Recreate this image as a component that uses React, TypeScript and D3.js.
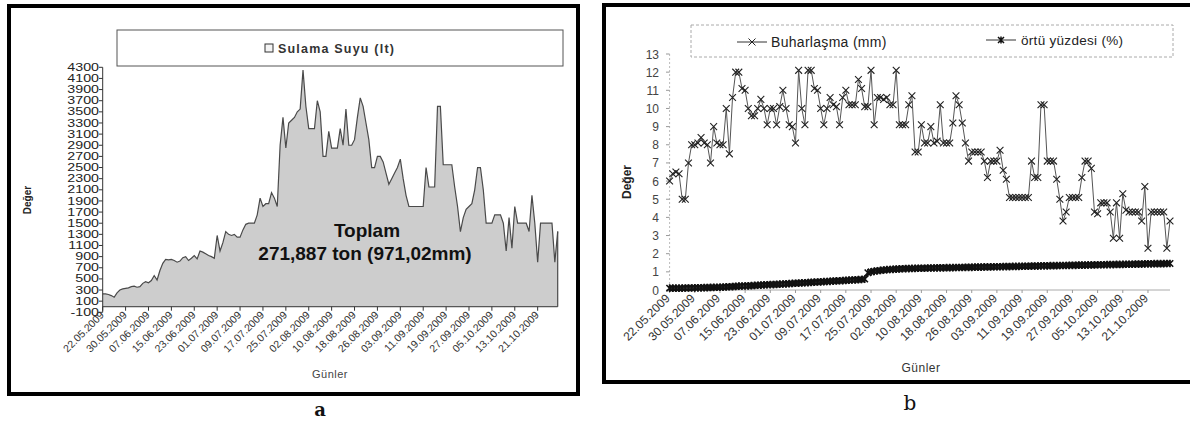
import React from "react";
import * as d3 from "d3";

// ---------- DATA ----------
const startDate = new Date(2009, 4, 22);
const dayCount = 160;
const categories: string[] = d3.timeDay
  .range(startDate, d3.timeDay.offset(startDate, dayCount))
  .map((d) => d3.timeFormat("%d.%m.%Y")(d));

const tickLabels = [
  "22.05.2009", "30.05.2009", "07.06.2009", "15.06.2009", "23.06.2009",
  "01.07.2009", "09.07.2009", "17.07.2009", "25.07.2009", "02.08.2009",
  "10.08.2009", "18.08.2009", "26.08.2009", "03.09.2009", "11.09.2009",
  "19.09.2009", "27.09.2009", "05.10.2009", "13.10.2009", "21.10.2009",
];

const sulamaTicks = d3.range(-100, 4301, 200);
const degerTicks = d3.range(0, 14, 1);

// Sulama Suyu (lt)
const sulamaSuyu = [
  230, 230, 220, 200, 170, 250, 300, 320, 330, 340,
  360, 370, 350, 360, 420, 450, 430, 470, 560, 480,
  650, 780, 850, 840, 850, 830, 800, 820, 880, 900,
  830, 870, 920, 860, 1000, 980, 950, 920, 900, 870,
  1280, 1000, 1150, 1350, 1300, 1280, 1300, 1250, 1250, 1380,
  1480, 1500, 1500, 1500, 1650, 1950, 1800, 1850, 1850, 2050,
  1950, 1800, 2900, 3400, 2850, 3300, 3350, 3400, 3500, 3550,
  4250, 3600, 3200, 3200, 3200, 3700, 3500, 2700, 2700, 3150,
  2850, 2850, 2850, 3200, 2900, 3550, 2900, 2900, 3000, 3400,
  3750, 3600, 3300, 3000, 2500, 2500, 2700, 2700, 2600, 2400,
  2200, 2300, 2400, 2500, 2650, 2300, 2000, 1800, 1800, 1800,
  1800, 1800, 1800, 2500, 2150, 2150, 2150, 3600, 3600, 2550,
  2550, 2550, 2550, 2150, 1800, 1350, 1600, 1750, 1800, 1850,
  2100, 2500, 2500, 2100, 1500, 1500, 1500, 1650, 1650, 1650,
  1500, 1000, 1600, 1050, 1800, 1500, 1500, 1500, 1500, 1350,
  2000, 1500, 800, 1500, 1500, 1500, 1500, 1500, 800, 1350,
];

// Buharlaşma (mm)
const buharlasma = [
  6.0, 6.4, 6.5, 6.4, 5.0, 5.0, 7.0, 8.0, 8.0, 8.1,
  8.4, 8.1, 8.0, 7.0, 9.0, 8.1, 8.0, 8.0, 10.0, 7.5,
  10.6, 12.0, 12.0, 11.1, 11.0, 10.0, 9.6, 9.6, 10.0, 10.5,
  10.0, 9.1, 10.0, 10.0, 9.1, 10.1, 11.0, 10.0, 9.1, 9.0,
  8.1, 12.1, 10.0, 9.1, 12.1, 12.1, 11.1, 11.0, 10.0, 9.1,
  10.0, 10.6, 10.2, 10.1, 9.1, 10.6, 11.0, 10.2, 10.2, 10.2,
  11.6, 11.1, 10.1, 10.1, 12.1, 9.1, 10.6, 10.6, 10.5, 10.6,
  10.2, 10.2, 12.1, 9.1, 9.1, 9.1, 10.2, 10.7, 7.6, 7.6,
  9.1, 8.1, 8.1, 9.0, 8.1, 8.2, 10.2, 8.1, 8.1, 8.1,
  9.2, 10.7, 10.2, 9.2, 8.1, 7.1, 7.6, 7.6, 7.6, 7.6,
  7.1, 6.2, 7.1, 7.1, 7.1, 7.7, 6.6, 6.1, 5.1, 5.1,
  5.1, 5.1, 5.1, 5.1, 5.1, 7.1, 6.2, 6.2, 10.2, 10.2,
  7.1, 7.1, 7.1, 6.1, 5.0, 3.8, 4.3, 5.1, 5.1, 5.1,
  5.1, 6.2, 7.1, 7.1, 6.7, 4.3, 4.2, 4.8, 4.8, 4.8,
  4.3, 2.85, 4.8, 2.85, 5.3, 4.4, 4.3, 4.3, 4.3, 4.3,
  3.8, 5.7, 2.3, 4.3, 4.3, 4.3, 4.3, 4.3, 2.3, 3.8,
];

// örtü yüzdesi (%)
const ortuYuzdesi = [
  0.10, 0.10, 0.10, 0.10, 0.10, 0.11, 0.11, 0.11, 0.12, 0.12,
  0.12, 0.13, 0.13, 0.14, 0.14, 0.15, 0.15, 0.16, 0.17, 0.18,
  0.19, 0.20, 0.21, 0.22, 0.22, 0.23, 0.24, 0.25, 0.26, 0.27,
  0.28, 0.29, 0.30, 0.30, 0.31, 0.32, 0.33, 0.34, 0.35, 0.36,
  0.37, 0.38, 0.39, 0.40, 0.41, 0.42, 0.43, 0.44, 0.45, 0.46,
  0.47, 0.48, 0.49, 0.50, 0.51, 0.52, 0.53, 0.54, 0.55, 0.56,
  0.57, 0.58, 0.60, 0.95, 1.00, 1.03, 1.06, 1.08, 1.10, 1.12,
  1.13, 1.14, 1.15, 1.16, 1.17, 1.18, 1.18, 1.19, 1.19, 1.20,
  1.20, 1.20, 1.21, 1.21, 1.21, 1.22, 1.22, 1.22, 1.23, 1.23,
  1.23, 1.24, 1.24, 1.24, 1.25, 1.25, 1.25, 1.26, 1.26, 1.26,
  1.27, 1.27, 1.27, 1.28, 1.28, 1.28, 1.29, 1.29, 1.29, 1.30,
  1.30, 1.30, 1.31, 1.31, 1.31, 1.32, 1.32, 1.32, 1.33, 1.33,
  1.33, 1.34, 1.34, 1.34, 1.35, 1.35, 1.35, 1.36, 1.36, 1.36,
  1.37, 1.37, 1.37, 1.38, 1.38, 1.38, 1.39, 1.39, 1.39, 1.40,
  1.40, 1.40, 1.41, 1.41, 1.41, 1.42, 1.42, 1.42, 1.43, 1.43,
  1.43, 1.44, 1.44, 1.44, 1.45, 1.45, 1.45, 1.45, 1.46, 1.46,
];

const FONT = "'Liberation Sans', Arial, sans-serif";

function PanelA() {
  const x = d3.scalePoint<string>().domain(categories).range([102.7, 557.7]);
  const y = d3.scaleLinear().domain([-100, 4300]).range([312.3, 67.3]);
  const area = d3
    .area<number>()
    .x((_, i) => x(categories[i])!)
    .y0(y(0))
    .y1((d) => y(d));
  const line = d3
    .line<number>()
    .x((_, i) => x(categories[i])!)
    .y((d) => y(d));
  const y0 = y(0);
  const lastX = x(categories[categories.length - 1])!;
  return (
    <g>
      <rect x={9} y={6} width={569} height={388} fill="#fff" stroke="#000" strokeWidth={4} />
      <rect x={117} y={30} width={446} height={36} fill="#fff" stroke="#555" strokeWidth={1} />
      <rect x={265} y={44} width={8} height={8} fill="#f4f4f4" stroke="#333" strokeWidth={1} />
      <text x={278} y={53} fontFamily={FONT} fontSize={12.5} fontWeight="bold" letterSpacing={1.2} fill="#333">
        Sulama Suyu (lt)
      </text>
      <path d={area(sulamaSuyu)!} fill="#cdcdcd" />
      <path d={line(sulamaSuyu)!} fill="none" stroke="#4a4a4a" strokeWidth={1.2} />
      <line x1={lastX} x2={lastX} y1={y0} y2={y(sulamaSuyu[sulamaSuyu.length - 1])} stroke="#4a4a4a" strokeWidth={1.2} />
      <line x1={102.7} x2={102.7} y1={y(4300)} y2={y(-100)} stroke="#333" strokeWidth={1} />
      {sulamaTicks.map((t) => (
        <g key={t}>
          <line x1={99} x2={102.7} y1={y(t)} y2={y(t)} stroke="#333" />
          <text
            transform={`translate(99,${y(t) + 3.6}) scale(1.55,1.1)`}
            textAnchor="end"
            fontFamily={FONT}
            fontSize={9.2}
            fill="#222"
          >
            {t}
          </text>
        </g>
      ))}
      <line x1={102.7} x2={lastX} y1={y0} y2={y0} stroke="#333" strokeWidth={1} />
      {tickLabels.map((lab) => {
        const tx = x(lab)!;
        return (
          <g key={lab}>
            <line x1={tx} x2={tx} y1={y0} y2={y0 + 4} stroke="#333" />
            <text
              transform={`translate(${tx + 2},${y0 + 9}) rotate(-45)`}
              textAnchor="end"
              fontFamily={FONT}
              fontSize={10.5}
              fill="#333"
            >
              {lab}
            </text>
          </g>
        );
      })}
      <text transform="translate(31,200) rotate(-90)" textAnchor="middle" fontFamily={FONT} fontSize={10} fontWeight="bold" fill="#222">
        Değer
      </text>
      <text x={330} y={378} textAnchor="middle" fontFamily={FONT} fontSize={11} fill="#444" letterSpacing={0.5}>
        Günler
      </text>
      <text x={367} y={237} textAnchor="middle" fontFamily={FONT} fontSize={19} fontWeight="bold" fill="#111">
        Toplam
      </text>
      <text x={365} y={260} textAnchor="middle" fontFamily={FONT} fontSize={19} fontWeight="bold" fill="#111">
        271,887 ton (971,02mm)
      </text>
      <text x={320} y={416} textAnchor="middle" fontFamily="'DejaVu Serif', 'Liberation Serif', serif" fontSize={18} fontWeight="bold" fill="#111">
        a
      </text>
    </g>
  );
}

function crossPath(cx: number, cy: number, r: number) {
  return `M${cx - r},${cy - r}L${cx + r},${cy + r}M${cx - r},${cy + r}L${cx + r},${cy - r}`;
}
function starPath(cx: number, cy: number, r: number) {
  return crossPath(cx, cy, r) + `M${cx},${cy - r * 1.2}L${cx},${cy + r * 1.2}`;
}

function PanelB() {
  const x = d3.scalePoint<string>().domain(categories).range([669.6, 1170]);
  const y = d3.scaleLinear().domain([0, 13]).range([290, 54]);
  const line = d3
    .line<number>()
    .x((_, i) => x(categories[i])!)
    .y((d) => y(d));
  const lastX = x(categories[categories.length - 1])!;
  return (
    <g>
      <rect x={604} y={5} width={590} height={377} fill="#fff" stroke="#000" strokeWidth={4} />
      <rect x={691} y={25} width={482} height={32} fill="#fff" stroke="#aaa" strokeWidth={1} strokeDasharray="3,2" />
      <line x1={737} x2={767} y1={42} y2={42} stroke="#333" />
      <path d={crossPath(752, 42, 3.5)} stroke="#222" fill="none" />
      <text x={771} y={47} fontFamily={FONT} fontSize={14} fill="#222" letterSpacing={0.3}>
        Buharlaşma (mm)
      </text>
      <line x1={986} x2={1016} y1={40} y2={40} stroke="#333" />
      <path d={starPath(1001, 40, 3)} stroke="#111" strokeWidth={1.5} fill="none" />
      <text x={1021} y={45} fontFamily={FONT} fontSize={13.5} fill="#222" letterSpacing={0.3}>
        örtü yüzdesi (%)
      </text>
      <line x1={669.6} x2={669.6} y1={54} y2={290} stroke="#bbb" strokeDasharray="2,2" />
      {degerTicks.map((t) => (
        <g key={t}>
          <line x1={666} x2={669.6} y1={y(t)} y2={y(t)} stroke="#999" />
          <text x={659} y={y(t) + 4.5} textAnchor="end" fontFamily={FONT} fontSize={12} fill="#444">
            {t}
          </text>
        </g>
      ))}
      <line x1={669.6} x2={lastX} y1={290} y2={290} stroke="#aaa" />
      {tickLabels.map((lab) => {
        const tx = x(lab)!;
        return (
          <g key={lab}>
            <line x1={tx} x2={tx} y1={290} y2={293} stroke="#999" />
            <text
              transform={`translate(${tx + 1},${299}) rotate(-45)`}
              textAnchor="end"
              fontFamily={FONT}
              fontSize={12}
              fill="#333"
            >
              {lab}
            </text>
          </g>
        );
      })}
      <path d={line(ortuYuzdesi)!} fill="none" stroke="#111" strokeWidth={1.2} />
      {ortuYuzdesi.map((v, i) => (
        <path key={"o" + i} d={starPath(x(categories[i])!, y(v), 3.2)} stroke="#111" strokeWidth={1.6} fill="none" />
      ))}
      <path d={line(buharlasma)!} fill="none" stroke="#555" strokeWidth={1} />
      {buharlasma.map((v, i) => (
        <path key={"b" + i} d={crossPath(x(categories[i])!, y(v), 3.4)} stroke="#222" strokeWidth={1.1} fill="none" />
      ))}
      <text transform="translate(631,182) rotate(-90)" textAnchor="middle" fontFamily={FONT} fontSize={12} fontWeight="bold" fill="#222">
        Değer
      </text>
      <text x={921} y={372} textAnchor="middle" fontFamily={FONT} fontSize={12} fill="#333" letterSpacing={0.5}>
        Günler
      </text>
      <text x={910} y={410} textAnchor="middle" fontFamily="'DejaVu Serif', 'Liberation Serif', serif" fontSize={20} fill="#111">
        b
      </text>
    </g>
  );
}

export default function App() {
  return (
    <svg
      width={1190}
      height={425}
      style={{ position: "absolute", left: 0, top: 0, background: "#fff" }}
    >
      <rect width={1190} height={425} fill="#fff" />
      <PanelA />
      <PanelB />
    </svg>
  );
}
